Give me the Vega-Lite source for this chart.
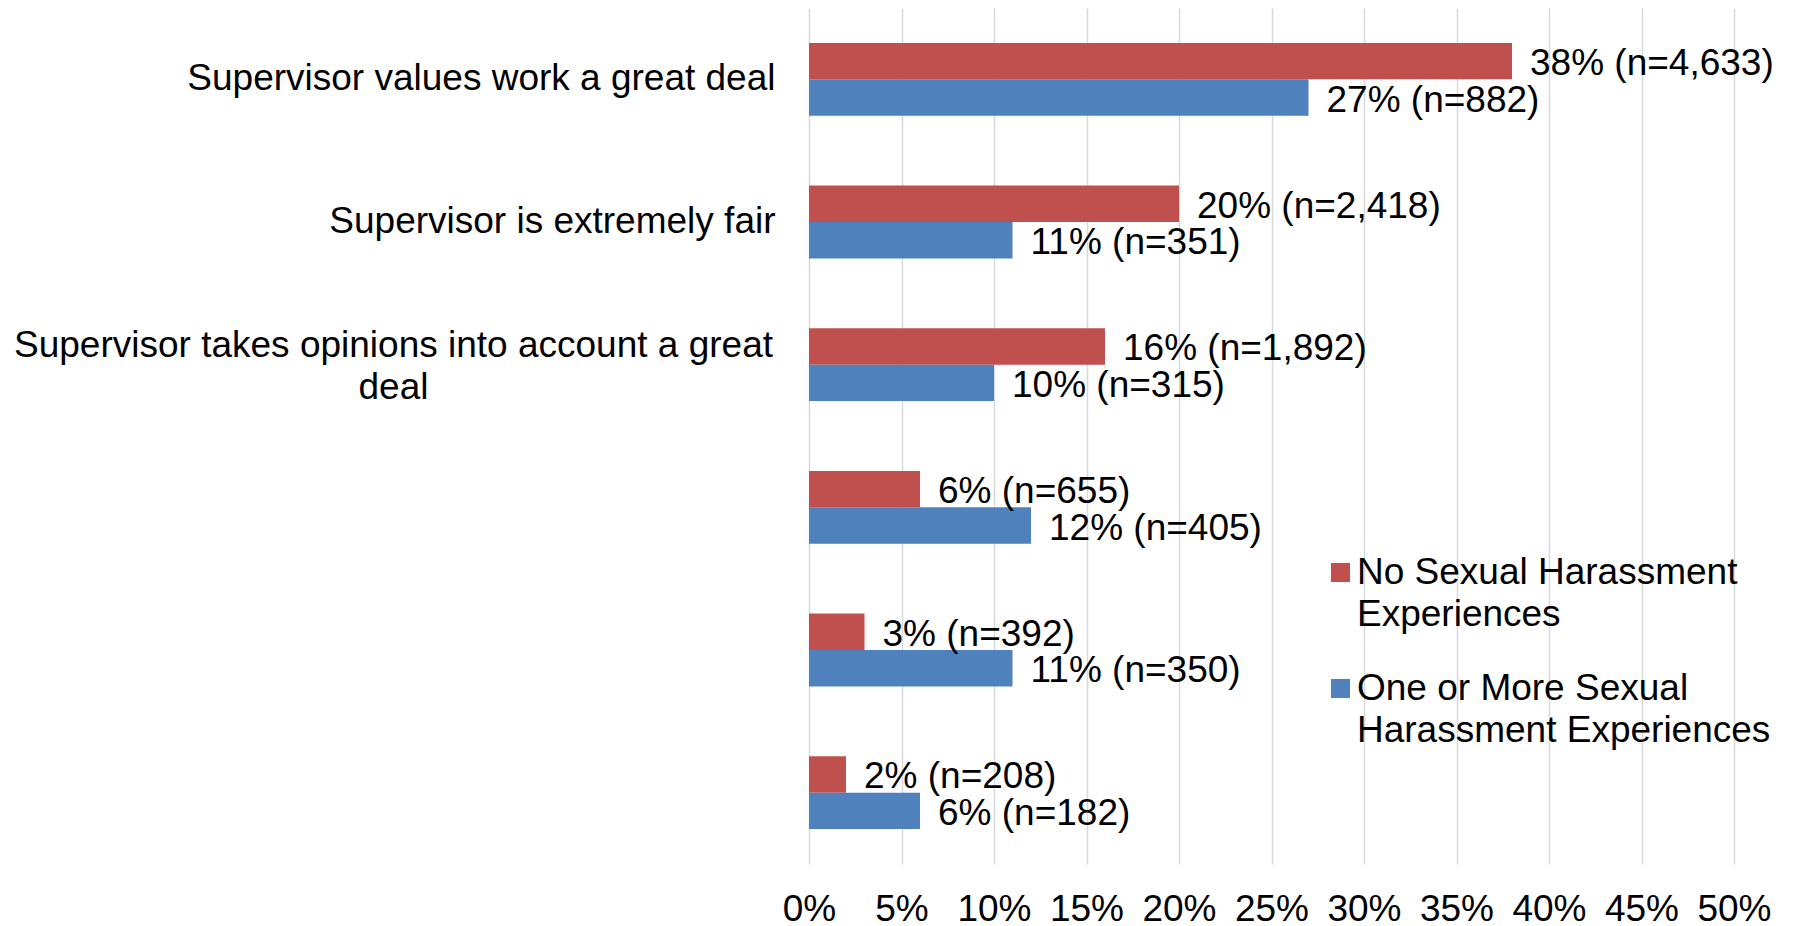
{
  "$schema": "https://vega.github.io/schema/vega-lite/v6.json",
  "autosize": {"type": "none"},
  "padding": {"left": 809, "top": 8, "right": 60, "bottom": 62},
  "width": 925,
  "height": 856,
  "background": "white",
  "config": {
    "view": {"stroke": null},
    "font": "Liberation Sans"
  },
  "data": {
    "values": [
      {"item": "Supervisor values work a great deal", "group": "No Sexual Harassment Experiences", "pct": 0.38, "lab": "38% (n=4,633)"},
      {"item": "Supervisor values work a great deal", "group": "One or More Sexual Harassment Experiences", "pct": 0.27, "lab": "27% (n=882)"},
      {"item": "Supervisor is extremely fair", "group": "No Sexual Harassment Experiences", "pct": 0.20, "lab": "20% (n=2,418)"},
      {"item": "Supervisor is extremely fair", "group": "One or More Sexual Harassment Experiences", "pct": 0.11, "lab": "11% (n=351)"},
      {"item": "Supervisor takes opinions into account a great deal", "group": "No Sexual Harassment Experiences", "pct": 0.16, "lab": "16% (n=1,892)"},
      {"item": "Supervisor takes opinions into account a great deal", "group": "One or More Sexual Harassment Experiences", "pct": 0.10, "lab": "10% (n=315)"},
      {"item": " ", "group": "No Sexual Harassment Experiences", "pct": 0.06, "lab": "6% (n=655)"},
      {"item": " ", "group": "One or More Sexual Harassment Experiences", "pct": 0.12, "lab": "12% (n=405)"},
      {"item": "  ", "group": "No Sexual Harassment Experiences", "pct": 0.03, "lab": "3% (n=392)"},
      {"item": "  ", "group": "One or More Sexual Harassment Experiences", "pct": 0.11, "lab": "11% (n=350)"},
      {"item": "   ", "group": "No Sexual Harassment Experiences", "pct": 0.02, "lab": "2% (n=208)"},
      {"item": "   ", "group": "One or More Sexual Harassment Experiences", "pct": 0.06, "lab": "6% (n=182)"}
    ]
  },
  "encoding": {
    "y": {
      "field": "item",
      "type": "nominal",
      "sort": null,
      "scale": {"paddingInner": 0.49, "paddingOuter": 0.245},
      "axis": {
        "title": null,
        "domain": false,
        "ticks": false,
        "tickSize": 0,
        "labelPadding": {"condition": {"test": "datum.value == 'Supervisor takes opinions into account a great deal'", "value": 416}, "value": 34},
        "labelFontSize": 37,
        "labelColor": "#000000",
        "labelFont": "Liberation Sans",
        "labelLimit": 900,
        "labelLineHeight": 42,
        "labelAlign": {"condition": {"test": "datum.value == 'Supervisor takes opinions into account a great deal'", "value": "center"}, "value": "right"},
        "labelOffset": {"condition": {"test": "datum.value == 'Supervisor takes opinions into account a great deal'", "value": -19}, "value": 0},
        "labelExpr": "datum.value == 'Supervisor takes opinions into account a great deal' ? ['Supervisor takes opinions into account a great', 'deal'] : datum.value"
      }
    },
    "yOffset": {
      "field": "group",
      "type": "nominal",
      "sort": ["No Sexual Harassment Experiences", "One or More Sexual Harassment Experiences"]
    },
    "x": {
      "field": "pct",
      "type": "quantitative",
      "scale": {"domain": [0, 0.5], "nice": false},
      "axis": {
        "title": null,
        "format": ".0%",
        "values": [0, 0.05, 0.1, 0.15, 0.2, 0.25, 0.3, 0.35, 0.4, 0.45, 0.5],
        "domain": false,
        "ticks": false,
        "tickSize": 0,
        "labelPadding": 27,
        "labelFontSize": 37,
        "labelColor": "#000000",
        "labelFont": "Liberation Sans",
        "labelFlush": false,
        "labelOverlap": false,
        "grid": true,
        "gridColor": "#D9D9D9",
        "gridWidth": 1.5
      }
    }
  },
  "layer": [
    {
      "mark": {"type": "bar"},
      "encoding": {
        "color": {
          "field": "group",
          "type": "nominal",
          "scale": {
            "domain": ["No Sexual Harassment Experiences", "One or More Sexual Harassment Experiences"],
            "range": ["#C0504D", "#4F81BD"]
          },
          "legend": {
            "title": null,
            "orient": "none",
            "legendX": 513,
            "legendY": 546,
            "padding": 0,
            "symbolType": "square",
            "symbolSize": 361,
            "symbolStrokeWidth": 0,
            "labelFontSize": 37,
            "labelFont": "Liberation Sans",
            "labelColor": "#000000",
            "labelLimit": 600,
            "labelOffset": -2,
            "rowPadding": 36,
            "labelExpr": "datum.label == 'No Sexual Harassment Experiences' ? ['No Sexual Harassment', 'Experiences'] : ['One or More Sexual', 'Harassment Experiences']",
            "encode": {
              "labels": {
                "update": {
                  "lineHeight": {"value": 42}
                }
              }
            }
          }
        }
      }
    },
    {
      "mark": {"type": "text", "align": "left", "baseline": "middle", "dx": 18, "dy": 3, "fontSize": 37, "font": "Liberation Sans", "color": "#000000"},
      "encoding": {
        "text": {"field": "lab"}
      }
    }
  ]
}
